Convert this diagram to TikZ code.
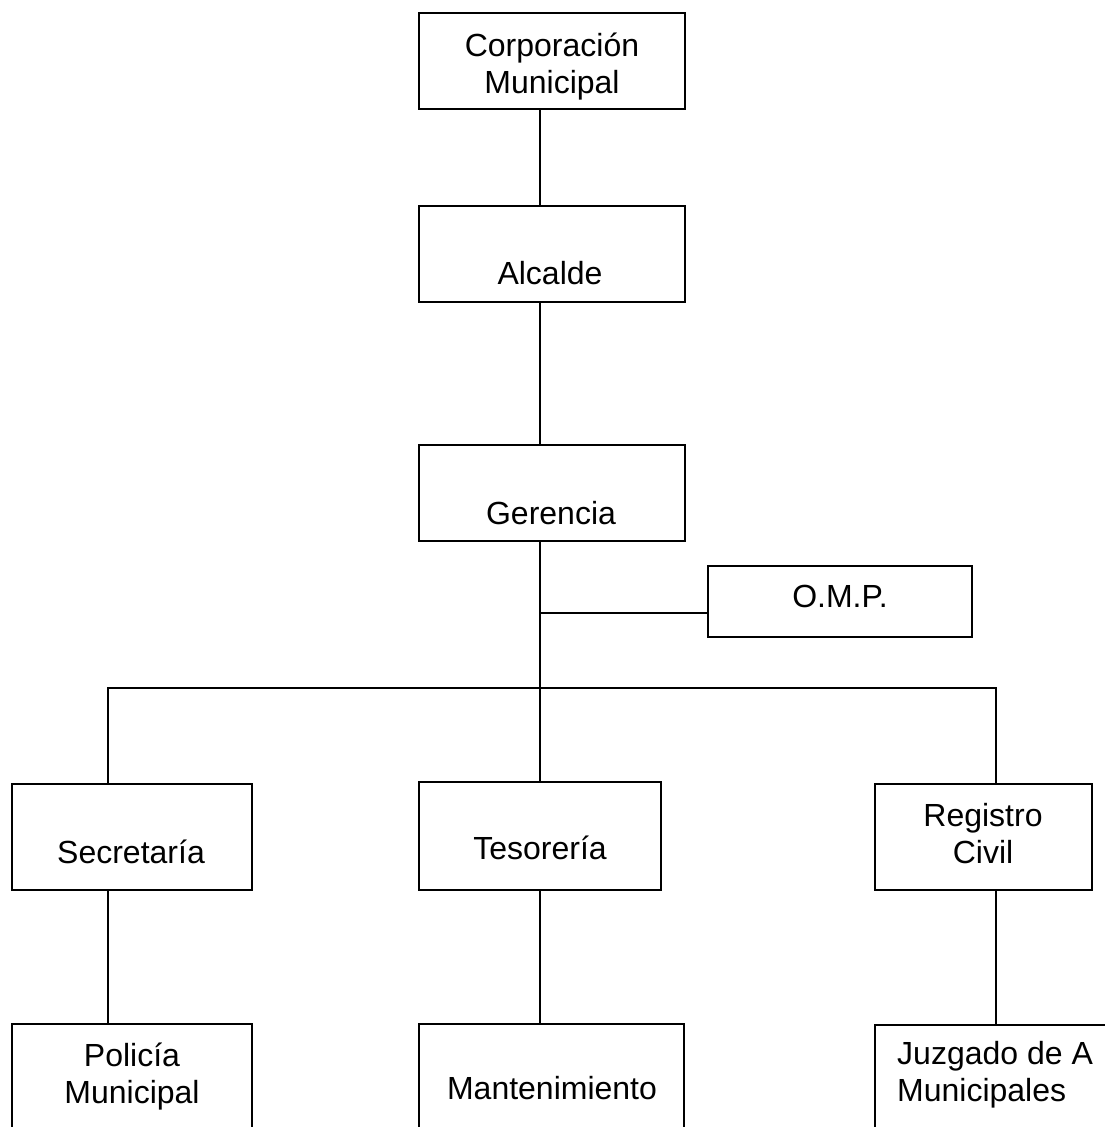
\documentclass[tikz,border=0pt]{standalone}
\usepackage{fontspec}
\setmainfont{Liberation Sans}
\begin{document}
\begin{tikzpicture}[x=1pt,y=-1pt,
  orgbox/.style={draw=black,line width=1.8pt,inner sep=0pt,rectangle},
  lbl/.style={font=\fontsize{32}{37}\selectfont,inner sep=0pt,anchor=base,align=center},
  conn/.style={draw=black,line width=1.8pt}]
\clip (0,0) rectangle (1105,1127);
\fill[white] (0,0) rectangle (1105,1127);
% boxes
\node[orgbox,minimum width=266pt,minimum height=96pt] (corp) at (552,61) {};
\node[orgbox,minimum width=266pt,minimum height=96pt] (alc) at (552,254) {};
\node[orgbox,minimum width=266pt,minimum height=96pt] (ger) at (552,493) {};
\node[orgbox,minimum width=264pt,minimum height=71pt] (omp) at (840,601.5) {};
\node[orgbox,minimum width=240pt,minimum height=106pt] (sec) at (132,837) {};
\node[orgbox,minimum width=242pt,minimum height=108pt] (tes) at (540,836) {};
\node[orgbox,minimum width=217pt,minimum height=106pt] (reg) at (983.5,837) {};
\node[orgbox,minimum width=240pt,minimum height=116pt] (pol) at (132,1082) {};
\node[orgbox,minimum width=265pt,minimum height=116pt] (man) at (551.5,1082) {};
\node[orgbox,minimum width=255pt,minimum height=115pt] (juz) at (1002.5,1082.5) {};
% labels
\node[lbl] (tcorp) at (552,93) {Corporación\\Municipal};
\node[lbl] (talc) at (550,284) {Alcalde};
\node[lbl] (tger) at (551,524) {Gerencia};
\node[lbl] (tomp) at (840,607) {O.M.P.};
\node[lbl] (tsec) at (131,863) {Secretaría};
\node[lbl] (ttes) at (540,859) {Tesorería};
\node[lbl] (treg) at (983,863) {Registro\\Civil};
\node[lbl] (tpol) at (132,1103) {Policía\\Municipal};
\node[lbl] (tman) at (552,1099) {Mantenimiento};
\node[lbl,anchor=base west,align=left] (tjuz) at (897,1101) {Juzgado de A\\Municipales};
% connector coordinates
\coordinate (xa) at (540,0);
\coordinate (xl) at (108,0);
\coordinate (xr) at (996,0);
\coordinate (jo) at (540,613);
\coordinate (bus) at (540,688);
% connectors
\draw[conn] (corp.south -| xa) -- (alc.north -| xa);
\draw[conn] (alc.south -| xa) -- (ger.north -| xa);
\draw[conn] (ger.south -| xa) -- (tes.north -| xa);
\draw[conn] (jo) -- (jo -| omp.west);
\draw[conn] (sec.north -| xl) -- (xl |- bus) -- (xr |- bus) -- (reg.north -| xr);
\draw[conn] (sec.south -| xl) -- (pol.north -| xl);
\draw[conn] (tes.south -| xa) -- (man.north -| xa);
\draw[conn] (reg.south -| xr) -- (juz.north -| xr);
\end{tikzpicture}
\end{document}
